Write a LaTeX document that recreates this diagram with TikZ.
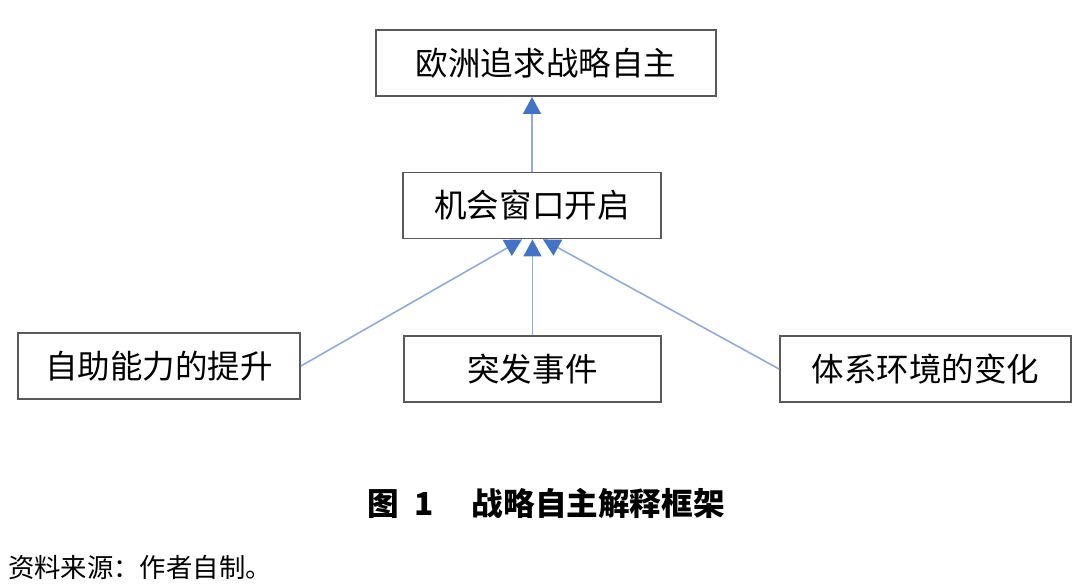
\documentclass[tikz,border=0pt]{standalone}
\usepackage{fontspec}
\setmainfont{Noto Sans CJK SC}
\usepackage{xcolor}
\usetikzlibrary{arrows.meta,positioning}
\definecolor{tipblue}{HTML}{4472C4}
\definecolor{lineblue}{HTML}{8FAADC}
\definecolor{boxgray}{HTML}{595959}

\begin{document}
\begin{tikzpicture}[
  x=0.02cm,y=-0.02cm,
  box/.style={draw=boxgray,line width=1.1pt,minimum height=1.32cm,
              inner sep=0pt,font=\fontsize{18.5}{22}\selectfont},
  arrow/.style={-{Triangle[length=0.34cm,width=0.36cm,color=tipblue]},
                draw=lineblue,line width=0.9pt}
]
\useasboundingbox (0,0) rectangle (1080,588);
\node[box,minimum width=6.8cm] (goal) at (546,63) {欧洲追求战略自主};
\node[box,minimum width=5.16cm] (window) at (532,205.5) {机会窗口开启};
\node[box,minimum width=5.64cm] (ability) at (159,366) {自助能力的提升};
\node[box,minimum width=5.14cm] (event) at (532.5,369) {突发事件};
\node[box,minimum width=5.82cm] (system) at (925.5,369) {体系环境的变化};
\draw[arrow] (window.north) -- (window.north |- goal.south);
\draw[arrow] (ability.east) -- ([xshift=-0.2cm]window.south);
\draw[arrow] (event.north) -- (event.north |- window.south);
\draw[arrow] (system.west) -- ([xshift=0.22cm]window.south);
% caption and source
\node[font=\fontsize{18}{22}\selectfont\bfseries] (title) at (546,503) {图\hspace{0.5em}1\hspace{1.2em}战略自主解释框架};
\node[anchor=west,font=\fontsize{15}{18}\selectfont] (source) at (2,567) {资料来源：作者自制。};
\end{tikzpicture}
\end{document}
